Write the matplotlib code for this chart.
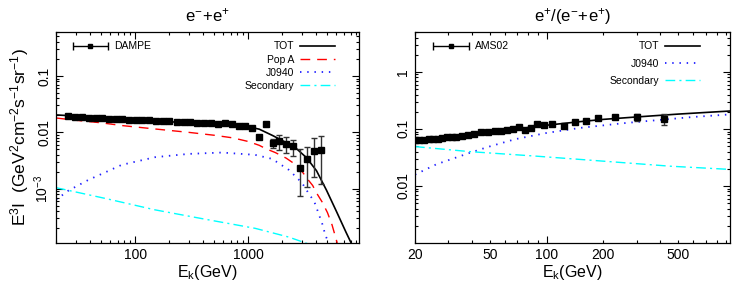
import numpy as np
import matplotlib
matplotlib.use('Agg')
import matplotlib.pyplot as plt
from matplotlib.ticker import FixedLocator, FuncFormatter, NullFormatter
from matplotlib.legend_handler import HandlerErrorbar
from matplotlib.container import ErrorbarContainer

plt.rcParams['font.family'] = ['Liberation Sans', 'DejaVu Sans']
plt.rcParams['mathtext.fontset'] = 'custom'
plt.rcParams['mathtext.rm'] = 'Liberation Sans'
plt.rcParams['mathtext.it'] = 'Liberation Sans:italic'

# ---- left panel: e- + e+ flux, DAMPE ----
dampe_E = [25.4, 29.6, 34.0, 39.2, 44.9, 51.4, 58.9, 67.4, 77.3, 88.5,
           101.4, 116.1, 133.0, 152.4, 174.6, 200.0, 232.3, 267.7, 306.7, 353.8,
           405.3, 470.9, 543.0, 625.6, 712.5, 820.6, 940.3, 1077, 1242, 1433,
           1641, 1880, 2154, 2468, 2884, 3282, 3838, 4397]
dampe_F = [0.01959, 0.01879, 0.01857, 0.01828, 0.01807, 0.01783, 0.01754, 0.01734, 0.01714, 0.01687,
           0.01665, 0.01665, 0.01645, 0.01618, 0.01599, 0.01579, 0.01553, 0.01535, 0.01517, 0.01491,
           0.01474, 0.01456, 0.01413, 0.01456, 0.01413, 0.01318, 0.01288, 0.01186, 0.00843, 0.01413,
           0.00660, 0.00699, 0.00626, 0.00577, 0.00238, 0.00336, 0.00476, 0.00490]
dampe_lo = [0.0004] * 25 + [0.0004, 0.0004, 0.0005, 0.0006, 0.0008,
                            0.00135, 0.0021, 0.0020, 0.0020, 0.00162, 0.00229, 0.00315, 0.00367]
dampe_hi = [0.0004] * 25 + [0.0004, 0.0004, 0.0005, 0.0006, 0.0008,
                            0.00099, 0.00193, 0.00196, 0.00159, 0.00267, 0.00225, 0.00313, 0.00377]

tot_E = [20, 30, 50, 100, 200, 400, 600, 800, 1000, 1250, 1640, 2160, 2650, 3250,
         4000, 4900, 6000, 7300, 8100]
tot_F = [0.0204, 0.0195, 0.0183, 0.0166, 0.0154, 0.0146, 0.0142, 0.0135, 0.0126, 0.0114,
         0.0088, 0.0066, 0.0052, 0.0036, 0.0021, 0.00095, 0.00040, 0.00017, 0.00011]

popa_E = [20, 30, 50, 77, 150, 300, 500, 730, 1000, 1250, 1440, 1730, 2160, 2610,
          3000, 3420, 3700, 4000, 4500, 5000, 5490, 6100]
popa_F = [0.0180, 0.0164, 0.0148, 0.0132, 0.0115, 0.0100, 0.0089, 0.0080, 0.0069, 0.0059,
          0.0051, 0.0044, 0.0035, 0.0027, 0.0020, 0.00140, 0.00115, 0.00085, 0.00058, 0.00038,
          0.00023, 0.00011]

j0940_E = [20, 25.7, 38.6, 55, 76, 150, 296, 585, 1150, 1620, 2280, 2980, 3450, 3820,
           4110, 4500, 4800, 5130]
j0940_F = [0.00064, 0.00093, 0.00144, 0.00198, 0.00266, 0.00364, 0.00416, 0.0044, 0.0040, 0.0034,
           0.00217, 0.00128, 0.00080, 0.00060, 0.00040, 0.00024, 0.00015, 0.00011]

sec_E = [20, 54, 150, 416, 1150, 2280, 3420]
sec_F = [0.00105, 0.00068, 0.000425, 0.00029, 0.00020, 0.00014, 0.000105]

# ---- right panel: positron fraction, AMS02 ----
ams_E = [19.9, 21.0, 22.3, 23.6, 24.9, 26.4, 27.9, 29.6, 31.4, 33.2,
         35.4, 38.2, 41.1, 44.9, 48.7, 52.9, 56.9, 61.7, 66.4, 71.0,
         76.7, 82.5, 88.8, 96.4, 107, 123, 141, 162, 188, 231,
         303, 420]
ams_R = [0.0643, 0.0632, 0.0650, 0.0659, 0.0659, 0.0668, 0.0696, 0.0713, 0.0724, 0.0734,
         0.0764, 0.0796, 0.0828, 0.0887, 0.0873, 0.0908, 0.0934, 0.0962, 0.0985, 0.1097,
         0.0973, 0.104, 0.120, 0.1175, 0.1202, 0.114, 0.134, 0.138, 0.153, 0.159,
         0.159, 0.149]
ams_err = [0.0015] * 20 + [0.002, 0.002, 0.0025, 0.0025, 0.003, 0.003, 0.004, 0.004, 0.005, 0.006,
                           0.022, 0.034]

totr_E = [20, 30, 50, 70, 100, 150, 200, 300, 500, 940]
totr_R = [0.064, 0.072, 0.089, 0.100, 0.116, 0.134, 0.147, 0.162, 0.182, 0.206]

j0940r_E = [20, 26, 39, 49, 68, 100, 150, 250, 330, 600, 906, 940]
j0940r_R = [0.0158, 0.024, 0.038, 0.0485, 0.066, 0.085, 0.104, 0.125, 0.136, 0.162, 0.178, 0.180]

secr_E = [20, 39, 88, 200, 453, 940]
secr_R = [0.049, 0.040, 0.0333, 0.0272, 0.0222, 0.0195]


def style_axis(ax):
    for s in ax.spines.values():
        s.set_linewidth(0.9)
    ax.tick_params(which='both', direction='in', top=True, right=True, labelsize=10)
    ax.tick_params(which='major', length=5, width=0.8)
    ax.tick_params(which='minor', length=2.5, width=0.8)
    ax.tick_params(axis='y', labelrotation=90)
    for lab in ax.get_yticklabels():
        lab.set_verticalalignment('center')


fig = plt.figure(figsize=(7.35, 2.91), dpi=100)
W, H = 735, 291
ax1 = fig.add_axes([56 / W, (H - 243) / H, 303 / W, 211 / H])
ax2 = fig.add_axes([415 / W, (H - 243) / H, 315 / W, 211 / H])

eb_handler = {ErrorbarContainer: HandlerErrorbar(xerr_size=1.7)}

# left
ax1.set_xscale('log')
ax1.set_yscale('log')
ax1.plot(tot_E, tot_F, color='black', lw=1.2, label='TOT')
ax1.plot(popa_E, popa_F, color='red', lw=1.0, dashes=(7, 5), label='Pop A')
ax1.plot(j0940_E, j0940_F, color='#2020ff', lw=1.3, dashes=(0.8, 3.2), label='J0940')
ax1.plot(sec_E, sec_F, color='cyan', lw=1.0, dashes=(7, 3, 1.5, 3), label='Secondary')
ax1.errorbar(dampe_E, dampe_F, yerr=[dampe_lo, dampe_hi], fmt='s', color='black', ms=4.5,
             ecolor='#333333', elinewidth=1.0, capsize=2)
proxy1 = ax1.errorbar([1.0], [1e-9], xerr=[0.1], fmt='s', color='black', ms=3,
                      elinewidth=1.0, capsize=3, capthick=1.0)
ax1.set_xlim(20, 9500)
ax1.set_ylim(1.1e-4, 0.6)
ax1.xaxis.set_major_locator(FixedLocator([100, 1000]))
ax1.xaxis.set_major_formatter(FuncFormatter(lambda v, p: '%d' % v))
ax1.xaxis.set_minor_locator(FixedLocator([a * 10 ** k for k in (1, 2, 3) for a in range(2, 10)]))
ax1.xaxis.set_minor_formatter(NullFormatter())
ax1.yaxis.set_major_locator(FixedLocator([1e-3, 1e-2, 1e-1]))
ax1.yaxis.set_major_formatter(FuncFormatter(
    lambda v, p: {1e-3: r'$\mathregular{10^{-3}}$', 1e-2: '0.01', 1e-1: '0.1'}.get(v, '')))
ax1.yaxis.set_minor_locator(FixedLocator([a * 10 ** k for k in (-4, -3, -2, -1) for a in range(2, 10)]))
ax1.yaxis.set_minor_formatter(NullFormatter())
style_axis(ax1)
ax1.set_xlabel(r'$\mathregular{E_k}$(GeV)', fontsize=11.5, labelpad=1)
ax1.set_ylabel(r'$\mathregular{E^3I\ \ (GeV^2cm^{-2}s^{-1}sr^{-1})}$', fontsize=12.5, labelpad=1)
ax1.set_title(r'$\mathregular{e^{-}\!+\!e^{+}}$', fontsize=12, pad=8)

leg1 = ax1.legend([proxy1], ['DAMPE'], loc='upper left', bbox_to_anchor=(0.055, 0.955),
                  frameon=False, fontsize=7.5, handlelength=3.4, handletextpad=0.6,
                  borderpad=0, borderaxespad=0, handler_map=eb_handler)
ax1.add_artist(leg1)
h, l = ax1.get_legend_handles_labels()
ax1.legend(h[:4], l[:4], loc='upper right', bbox_to_anchor=(0.921, 0.955), frameon=False,
           fontsize=7.5, handlelength=3.4, handletextpad=0.5, labelspacing=0.3,
           borderpad=0, borderaxespad=0, markerfirst=False)

# right
ax2.set_xscale('log')
ax2.set_yscale('log')
ax2.plot(totr_E, totr_R, color='black', lw=1.2, label='TOT')
ax2.plot(j0940r_E, j0940r_R, color='#2020ff', lw=1.3, dashes=(0.8, 3.2), label='J0940')
ax2.plot(secr_E, secr_R, color='cyan', lw=1.0, dashes=(7, 3, 1.5, 3), label='Secondary')
ax2.errorbar(ams_E, ams_R, yerr=ams_err, fmt='s', color='black', ms=4.5,
             ecolor='#333333', elinewidth=1.0, capsize=2)
proxy2 = ax2.errorbar([30], [1e-9], xerr=[1], fmt='s', color='black', ms=3,
                      elinewidth=1.0, capsize=3, capthick=1.0)
ax2.set_xlim(20, 940)
ax2.set_ylim(1e-3, 5)
ax2.xaxis.set_major_locator(FixedLocator([100]))
ax2.xaxis.set_major_formatter(FuncFormatter(lambda v, p: '%d' % v))
ax2.xaxis.set_minor_locator(FixedLocator([a * 10 ** k for k in (1, 2) for a in range(2, 10)]))
ax2.xaxis.set_minor_formatter(FuncFormatter(
    lambda v, p: '%d' % round(v) if round(v) in (20, 50, 200, 500) else ''))
ax2.yaxis.set_major_locator(FixedLocator([1e-2, 1e-1, 1]))
ax2.yaxis.set_major_formatter(FuncFormatter(
    lambda v, p: {1e-2: '0.01', 1e-1: '0.1', 1: '1'}.get(v, '')))
ax2.yaxis.set_minor_locator(FixedLocator([a * 10 ** k for k in (-3, -2, -1, 0) for a in range(2, 10)]))
ax2.yaxis.set_minor_formatter(NullFormatter())
style_axis(ax2)
ax2.tick_params(axis='x', which='minor', labelsize=10, pad=3.5)
ax2.set_xlabel(r'$\mathregular{E_k}$(GeV)', fontsize=11.5, labelpad=1)
ax2.set_title(r'$\mathregular{e^{+}/(e^{-}\!+\!e^{+})}$', fontsize=12, pad=8)

leg2 = ax2.legend([proxy2], ['AMS02'], loc='upper left', bbox_to_anchor=(0.058, 0.955),
                  frameon=False, fontsize=7.5, handlelength=3.4, handletextpad=0.6,
                  borderpad=0, borderaxespad=0, handler_map=eb_handler)
ax2.add_artist(leg2)
h, l = ax2.get_legend_handles_labels()
ax2.legend(h[:3], l[:3], loc='upper right', bbox_to_anchor=(0.905, 0.955), frameon=False,
           fontsize=7.5, handlelength=3.4, handletextpad=0.5, labelspacing=0.68,
           borderpad=0, borderaxespad=0, markerfirst=False)

fig.savefig('out.png', dpi=100)
